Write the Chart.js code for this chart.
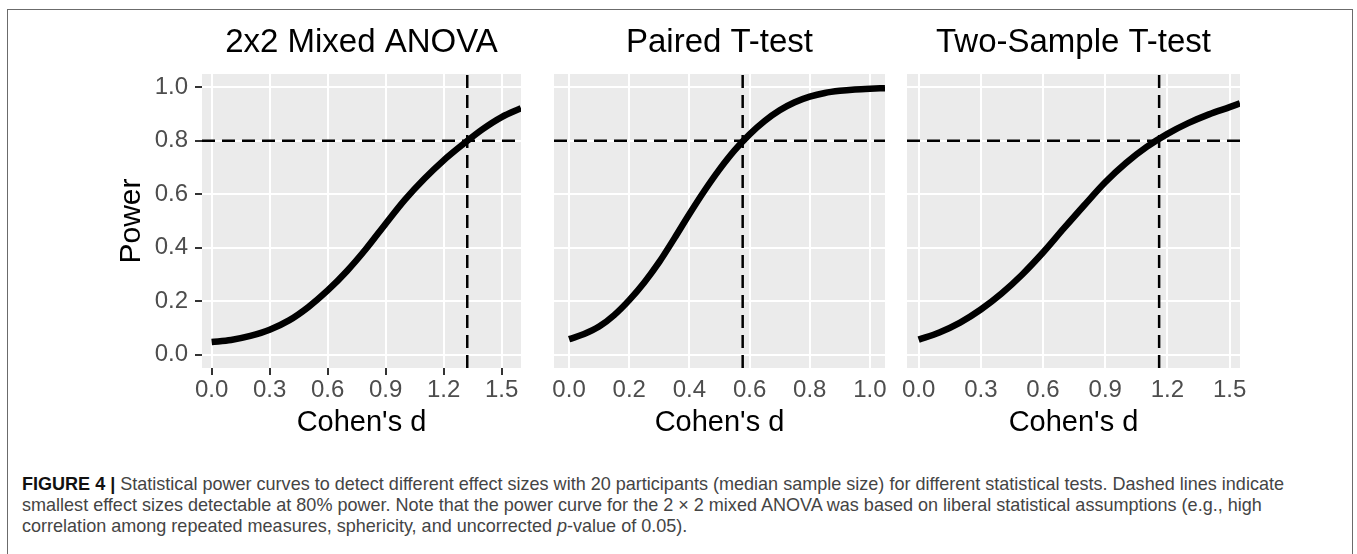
<!DOCTYPE html>
<html>
<head>
<meta charset="utf-8">
<script src="https://cdn.jsdelivr.net/npm/chart.js@4.4.1/dist/chart.umd.min.js"></script>
<style>
  body { margin: 0; background: #fff; width: 1357px; height: 554px; overflow: hidden; position: relative; }
  .frame { position: absolute; left: 7px; top: 9px; width: 1346px; height: 600px; border: 1.5px solid #6b6b6b; box-sizing: border-box; }
  canvas { position: absolute; top: 0; }
  #c1 { left: 100px; }
  #c2 { left: 540px; }
  #c3 { left: 895px; }
  .cap { position: absolute; left: 22px; white-space: nowrap; transform-origin: 0 0;
         font-family: "Liberation Sans", Arial, sans-serif;
         font-size: 19px; line-height: 21px; color: #444; }
  .cap b { color: #111; }
</style>
</head>
<body>
<div class="frame"></div>
<canvas id="c1" width="430" height="445"></canvas>
<canvas id="c2" width="355" height="445"></canvas>
<canvas id="c3" width="355" height="445"></canvas>
<div class="cap" id="l1" style="top:473px"><b>FIGURE 4 |</b> Statistical power curves to detect different effect sizes with 20 participants (median sample size) for different statistical tests. Dashed lines indicate</div>
<div class="cap" id="l2" style="top:494px">smallest effect sizes detectable at 80% power. Note that the power curve for the 2 × 2 mixed ANOVA was based on liberal statistical assumptions (e.g., high</div>
<div class="cap" id="l3" style="top:515px">correlation among repeated measures, sphericity, and uncorrected <i>p</i>-value of 0.05).</div>
<script>
// panel titles
const titles = ['2x2 Mixed ANOVA', 'Paired T-test', 'Two-Sample T-test'];

// power curves (Cohen's d -> power)
const anovaD = [0, 0.1, 0.2, 0.3, 0.4, 0.5, 0.6, 0.7, 0.8, 0.9, 1.0, 1.1, 1.2, 1.3, 1.4, 1.5, 1.6];
const anovaPower = [0.047, 0.055, 0.07, 0.093, 0.128, 0.178, 0.24, 0.313, 0.397, 0.49, 0.58, 0.658, 0.727, 0.787, 0.843, 0.889, 0.922];

const pairedD = [0, 0.05, 0.1, 0.15, 0.2, 0.25, 0.3, 0.35, 0.4, 0.45, 0.5, 0.55, 0.6, 0.65, 0.7, 0.75, 0.8, 0.85, 0.9, 0.95, 1.0, 1.05];
const pairedPower = [0.058, 0.077, 0.105, 0.148, 0.204, 0.27, 0.347, 0.435, 0.526, 0.613, 0.693, 0.764, 0.824, 0.874, 0.914, 0.944, 0.965, 0.979, 0.987, 0.992, 0.995, 0.997];

const twoSampleD = [0, 0.1, 0.2, 0.3, 0.4, 0.5, 0.6, 0.7, 0.8, 0.9, 1.0, 1.1, 1.2, 1.3, 1.4, 1.5, 1.55];
const twoSamplePower = [0.056, 0.083, 0.12, 0.169, 0.229, 0.30, 0.382, 0.472, 0.56, 0.645, 0.717, 0.777, 0.826, 0.866, 0.899, 0.926, 0.94];

// smallest detectable effect at 80% power (dashed lines)
const targetPower = 0.8;
const cutoffD = [1.322, 0.577, 1.16];

// tick labels
const yTicks = [0, 0.2, 0.4, 0.6, 0.8, 1.0];
const xTicksAnova = [0, 0.3, 0.6, 0.9, 1.2, 1.5];
const xTicksPaired = [0, 0.2, 0.4, 0.6, 0.8, 1.0];
const xTicksTwoSample = [0, 0.3, 0.6, 0.9, 1.2, 1.5];

const FONT = '"Liberation Sans", Arial, Helvetica, sans-serif';

const panelBg = {
  id: 'panelBg',
  beforeDraw(chart) {
    const { ctx, chartArea: a } = chart;
    ctx.save();
    ctx.fillStyle = '#EBEBEB';
    ctx.fillRect(a.left, a.top, a.width, a.height);
    ctx.restore();
  }
};

function makePanel(id, title, xs, ys, cutoff, xTicks, xRange, opts) {
  const yRange = [-0.05, 1.05];
  const curve = xs.map((x, i) => ({ x: x, y: ys[i] }));
  const dash = { borderColor: '#000', borderWidth: 2.5, borderDash: [13, 7], pointRadius: 0, fill: false };

  return new Chart(document.getElementById(id), {
    type: 'line',
    data: {
      datasets: [
        { data: curve, borderColor: '#000', borderWidth: 6.5, pointRadius: 0, cubicInterpolationMode: 'monotone', fill: false },
        Object.assign({ data: [{ x: xRange[0], y: targetPower }, { x: xRange[1], y: targetPower }] }, dash),
        Object.assign({ data: [{ x: cutoff, y: yRange[0] }, { x: cutoff, y: yRange[1] }] }, dash)
      ]
    },
    options: {
      responsive: false,
      animation: false,
      layout: { padding: { left: 0, right: opts.padRight, top: 0, bottom: 0 } },
      plugins: {
        legend: { display: false },
        tooltip: { enabled: false },
        title: {
          display: true, text: title, fullSize: false, color: '#000',
          font: { family: FONT, size: 33, weight: 'normal', lineHeight: 1.25 },
          padding: { top: 22.4, bottom: 10.35 }
        }
      },
      scales: {
        x: {
          type: 'linear', min: xRange[0], max: xRange[1],
          afterBuildTicks: s => { s.ticks = xTicks.map(v => ({ value: v })); },
          afterFit: s => { s.height = 77; },
          border: { display: false },
          grid: { color: '#fff', lineWidth: 2, drawTicks: true, tickLength: 7,
                  tickColor: opts.xTickMarks ? '#333' : 'rgba(0,0,0,0)', tickWidth: 2 },
          ticks: { color: '#4D4D4D', padding: 1, maxRotation: 0, autoSkip: false,
                   font: { family: FONT, size: 24 }, callback: v => v.toFixed(1) },
          title: { display: true, text: "Cohen's d", color: '#000',
                   font: { family: FONT, size: 29, lineHeight: 1.2 }, padding: { top: 0, bottom: 4.6 } }
        },
        y: {
          type: 'linear', min: yRange[0], max: yRange[1],
          afterBuildTicks: s => { s.ticks = yTicks.map(v => ({ value: v })); },
          afterFit: s => { s.width = opts.yWidth; },
          border: { display: false },
          grid: { color: '#fff', lineWidth: 2, drawTicks: opts.yLabels, tickLength: 7, tickColor: '#333', tickWidth: 2 },
          ticks: { display: opts.yLabels, color: '#4D4D4D', padding: 7,
                   font: { family: FONT, size: 24 }, callback: v => v.toFixed(1) },
          title: { display: opts.yLabels, text: 'Power', color: '#000',
                   font: { family: FONT, size: 30, lineHeight: 1.2 }, padding: { top: 13.3, bottom: 0 } }
        }
      }
    },
    plugins: [panelBg]
  });
}

makePanel('c1', titles[0], anovaD, anovaPower, cutoffD[0], xTicksAnova, [-0.05, 1.6],
          { yWidth: 102, padRight: 9, yLabels: true, xTickMarks: true });
makePanel('c2', titles[1], pairedD, pairedPower, cutoffD[1], xTicksPaired, [-0.05, 1.05],
          { yWidth: 14, padRight: 10, yLabels: false, xTickMarks: false });
makePanel('c3', titles[2], twoSampleD, twoSamplePower, cutoffD[2], xTicksTwoSample, [-0.056, 1.55],
          { yWidth: 12, padRight: 10, yLabels: false, xTickMarks: false });

// squeeze caption lines to the width of the original typesetting
const l1 = document.getElementById('l1');
const k = (1284 - 22) / l1.getBoundingClientRect().width;
['l1', 'l2', 'l3'].forEach(id => {
  document.getElementById(id).style.transform = 'scaleX(' + k + ')';
});
</script>
</body>
</html>
